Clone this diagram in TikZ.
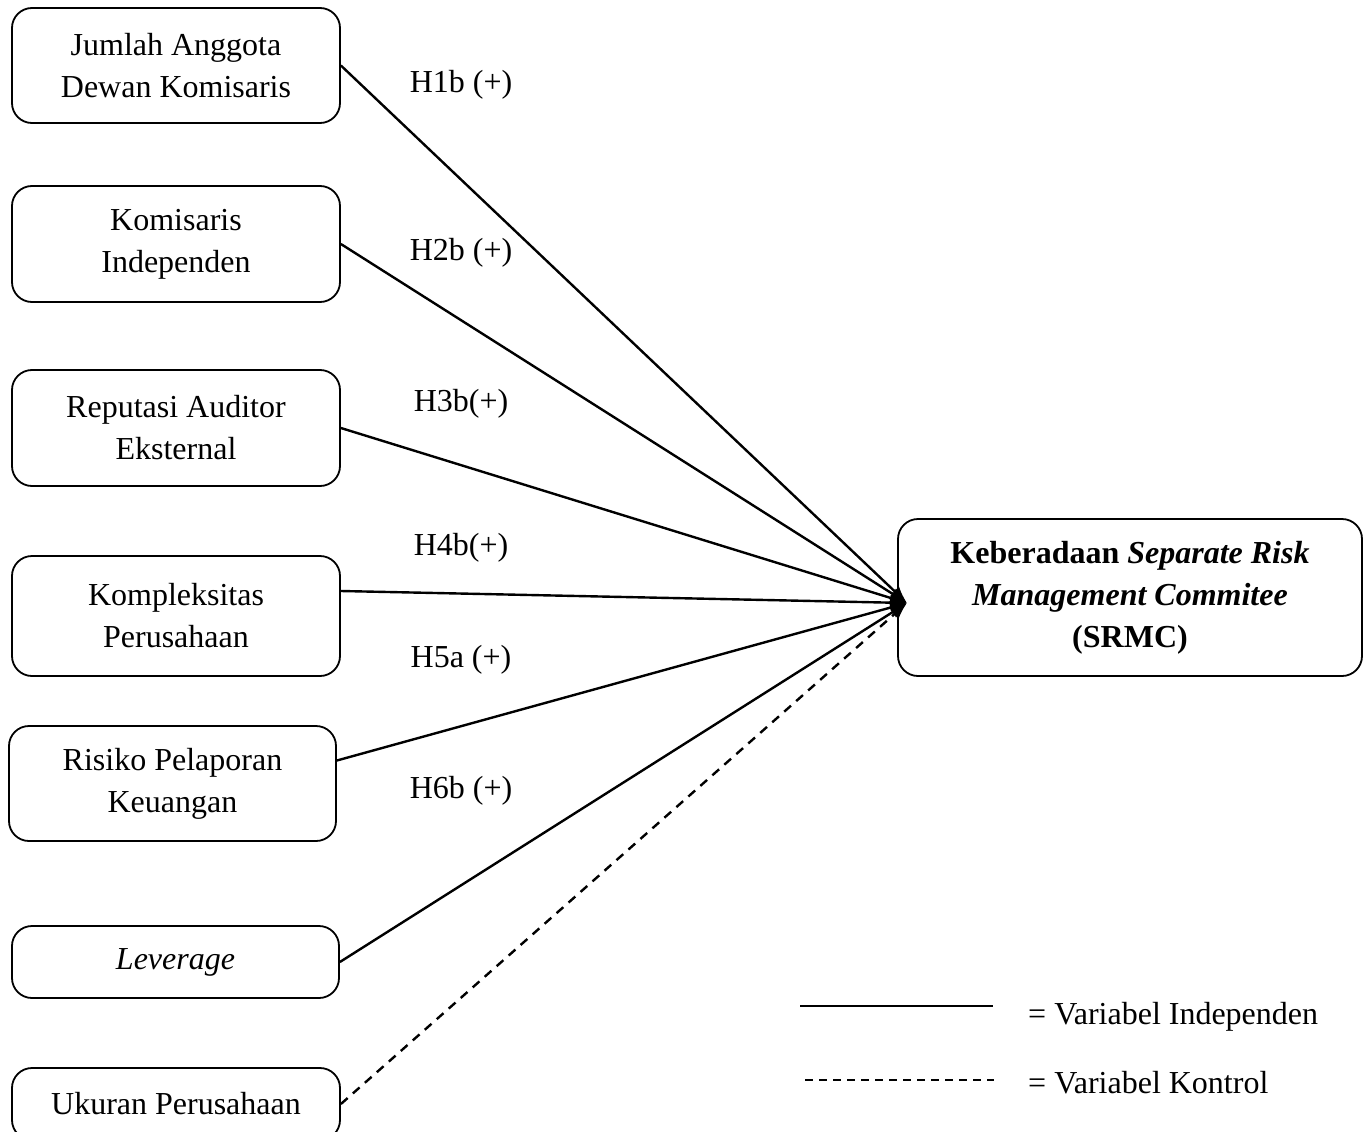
\documentclass[tikz,border=0pt]{standalone}
\usepackage{fontspec}
\setmainfont{Liberation Serif}
\usetikzlibrary{arrows.meta}
\begin{document}
\begin{tikzpicture}[x=1pt,y=-1pt,
  txt/.style={font=\fontsize{32pt}{42pt}\selectfont},
  varbox/.style={txt, draw, line width=1.8pt, rounded corners=20pt, align=center, inner sep=0pt},
  conn/.style={line width=2.4pt, -{Latex[length=17pt,width=13pt]}},
  ctrl/.style={conn, dash pattern=on 9pt off 7pt},
  hyp/.style={txt, inner sep=0pt}]
\clip (0,0) rectangle (1371,1132);
\node[varbox, minimum width=328pt, minimum height=115pt] (b1) at (176,65.5) {Jumlah Anggota\\Dewan Komisaris};
\node[varbox, minimum width=328pt, minimum height=116pt] (b2) at (176,244) {Komisaris\\Independen};
\node[varbox, minimum width=328pt, minimum height=116pt] (b3) at (176,428) {Reputasi Auditor\\Eksternal};
\node[varbox, minimum width=328pt, minimum height=120pt] (b4) at (176,616) {Kompleksitas\\Perusahaan};
\node[varbox, minimum width=327pt, minimum height=115pt] (b5) at (172.5,783.5) {Risiko Pelaporan\\Keuangan};
\node[varbox, minimum width=327pt, minimum height=72pt] (b6) at (175.5,962) {\textit{Leverage}};
\node[varbox, minimum width=328pt, minimum height=72pt] (b7) at (176,1104) {Ukuran Perusahaan};
\node[varbox, minimum width=464pt, minimum height=157pt] (srmc) at (1130,597.5)
  {\textbf{Keberadaan \textit{Separate Risk}}\\\textbf{\textit{Management Commitee}}\\\textbf{(SRMC)}};
\coordinate (tip) at (907,603);
\draw[conn] (b1.east) -- (tip);
\draw[conn] (b2.east) -- (tip);
\draw[conn] (b3.east) -- (tip);
\draw[conn] ([yshift=25pt]b4.east) -- (tip);
\draw[conn] ([yshift=23pt]b5.east) -- (tip);
\draw[conn] (b6.east) -- (tip);
\draw[ctrl] (b7.east) -- (tip);
\node[hyp] (h1) at (461,85) {H1b (+)};
\node[hyp] (h2) at (461,253) {H2b (+)};
\node[hyp] (h3) at (461,404) {H3b(+)};
\node[hyp] (h4) at (461,548) {H4b(+)};
\node[hyp] (h5) at (461,660) {H5a (+)};
\node[hyp] (h6) at (461,791) {H6b (+)};
\coordinate (la1) at (800,1006);
\coordinate (lb1) at (993,1006);
\coordinate (la2) at (805,1080);
\coordinate (lb2) at (994,1080);
\draw[line width=2.2pt] (la1) -- (lb1);
\draw[line width=2pt, dash pattern=on 8pt off 6pt] (la2) -- (lb2);
\node[hyp, anchor=west] (leg1) at (1028,1017) {= Variabel Independen};
\node[hyp, anchor=west] (leg2) at (1028,1083) {= Variabel Kontrol};
\end{tikzpicture}
\end{document}
